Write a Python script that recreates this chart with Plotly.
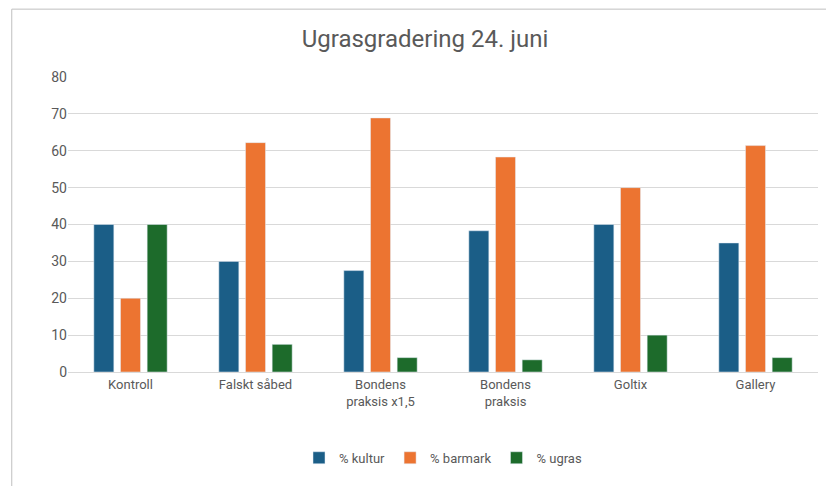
import plotly.graph_objects as go

categories = ["Kontroll", "Falskt såbed", "Bondens<br>praksis x1,5", "Bondens<br>praksis", "Goltix", "Gallery"]
kultur = [40, 30, 27.5, 38.3, 40, 35]
barmark = [20, 62.2, 68.9, 58.3, 50, 61.4]
ugras = [40, 7.5, 3.9, 3.3, 10, 3.9]

fig = go.Figure()
fig.add_bar(x=categories, y=kultur, name="% kultur", marker_color="#1B5E87")
fig.add_bar(x=categories, y=barmark, name="% barmark", marker_color="#EC7431")
fig.add_bar(x=categories, y=ugras, name="% ugras", marker_color="#1D6B2B")

fig.update_layout(
    width=834, height=486,
    paper_bgcolor="white", plot_bgcolor="white",
    font=dict(family="Roboto, Arial", size=14, color="#595959"),
    title=dict(text="Ugrasgradering 24. juni", x=0.5, y=0.955, xanchor="center",
               font=dict(size=24, color="#595959")),
    barmode="group", bargap=0.36, bargroupgap=0.25,
    margin=dict(l=60, r=24, t=69, b=122),
    legend=dict(orientation="h", x=0.5, xanchor="center", y=-0.24, yanchor="top",
                font=dict(size=13)),
    yaxis=dict(range=[0, 80], dtick=10, gridcolor="#D9D9D9", zeroline=False,
               showline=False, ticks="", ticklen=0),
    xaxis=dict(showline=True, linecolor="#D9D9D9", tickfont=dict(size=13)),
    shapes=[dict(type="rect", xref="paper", yref="paper", x0=-0.075, x1=1.03,
                 y0=-0.42, y1=1.23, line=dict(color="#BFBFBF", width=1))],
)
fig.write_html("out.html")
